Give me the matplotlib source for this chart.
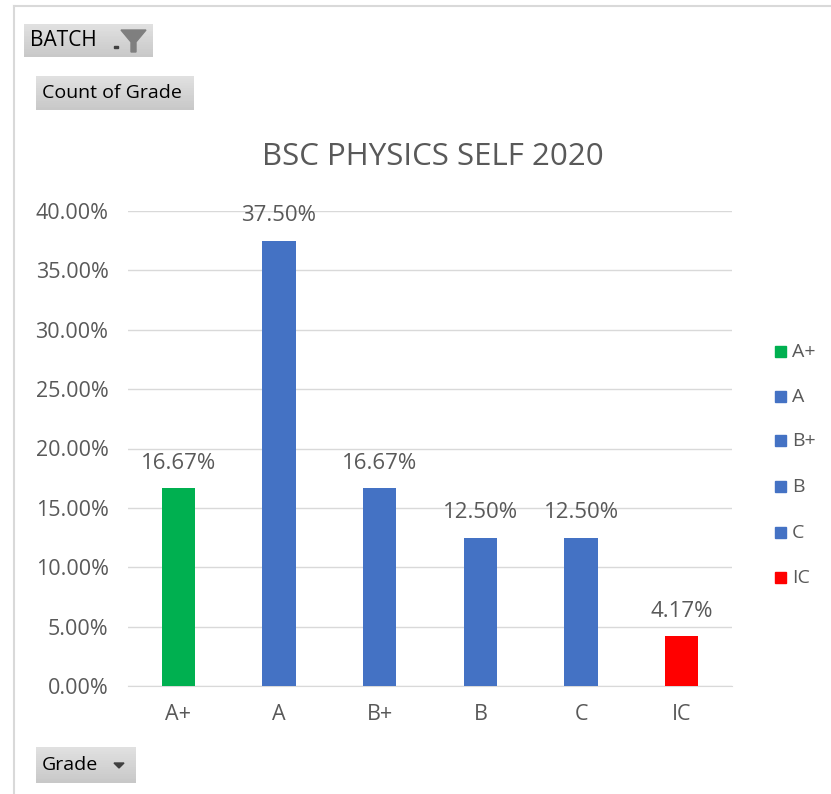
import numpy as np
import matplotlib.pyplot as plt
from matplotlib.patches import Rectangle, Polygon

plt.rcParams['font.family'] = ['Open Sans', 'DejaVu Sans']

# data
grades = ["A+", "A", "B+", "B", "C", "IC"]
share = [16.67, 37.50, 16.67, 12.50, 12.50, 4.17]
colors = ["#00B050", "#4472C4", "#4472C4", "#4472C4", "#4472C4", "#FF0000"]
yticks = [0, 5, 10, 15, 20, 25, 30, 35, 40]

W, H = 831, 794
fig = plt.figure(figsize=(W / 100, H / 100), dpi=100)

def fx(px):
    return px / W

def fy(py):
    return 1 - py / H

# outer chart frame (left and top edges visible)
fig.add_artist(plt.Line2D([fx(14), fx(14)], [0, fy(6)], color="#D9D9D9", lw=1.5))
fig.add_artist(plt.Line2D([fx(14), 1], [fy(6), fy(6)], color="#D9D9D9", lw=1.5))

ax = fig.add_axes([fx(128), fy(686), fx(732) - fx(128), fy(211) - fy(686)])
x = np.arange(len(grades))
ax.bar(x, share, width=0.33, color=colors, zorder=3)
for xi, v in zip(x, share):
    ax.text(xi, v + 2.1, f"{v:.2f}%", ha="center", va="center", fontsize=16, color="#595959")

ax.set_xlim(-0.5, 5.5)
ax.set_ylim(0, 40)
ax.set_yticks(yticks)
ax.set_yticklabels([f"{t:.2f}%" for t in yticks])
ax.set_xticks(x)
ax.set_xticklabels(grades)
ax.grid(axis="y", color="#D9D9D9", lw=1, zorder=0)
for s in ["top", "right", "left"]:
    ax.spines[s].set_visible(False)
ax.spines["bottom"].set_color("#D9D9D9")
ax.tick_params(length=0, labelsize=15.5, labelcolor="#595959")
ax.tick_params(axis="y", pad=14)
ax.tick_params(axis="x", pad=13)

fig.text(fx(433), fy(157), "BSC PHYSICS SELF 2020", ha="center", va="center",
         fontsize=22.5, color="#595959")

# legend
leg_y = [352, 397, 441, 487, 533, 578]
for g, c, py in zip(grades, colors, leg_y):
    fig.add_artist(Rectangle((fx(775), fy(py) - 5 / H), 11 / W, 11 / H, color=c))
    fig.text(fx(792), fy(py), g, ha="left", va="center", fontsize=14, color="#595959")

# pivot buttons
def button(x0, y0, x1, y1, label, fs=14):
    n = 20
    for i in range(n):
        yy0 = y0 + (y1 - y0) * i / n
        shade = 0.88 - 0.10 * i / n
        fig.add_artist(Rectangle((fx(x0), fy(yy0 + (y1 - y0) / n)), fx(x1 - x0), (y1 - y0) / n / H,
                                 color=(shade, shade, shade), lw=0))
    fig.text(fx(x0 + 6), fy((y0 + y1) / 2), label, ha="left", va="center",
             fontsize=fs, color="black")

button(24, 24, 153, 57, "BATCH", fs=15)
# filter icon
fig.add_artist(Polygon([(fx(121), fy(30)), (fx(146), fy(30)), (fx(136), fy(42)),
                        (fx(136), fy(52)), (fx(131), fy(52)), (fx(131), fy(42))],
                       closed=True, color="#7F7F7F"))
fig.add_artist(Rectangle((fx(114), fy(48)), 4 / W, 2 / H, color="#404040"))
button(36, 76, 194, 110, "Count of Grade")
button(36, 747, 136, 783, "Grade")
fig.add_artist(Polygon([(fx(114), fy(763)), (fx(124), fy(763)), (fx(119), fy(768))],
                       closed=True, color="#404040"))

fig.savefig("out.png", dpi=100)
